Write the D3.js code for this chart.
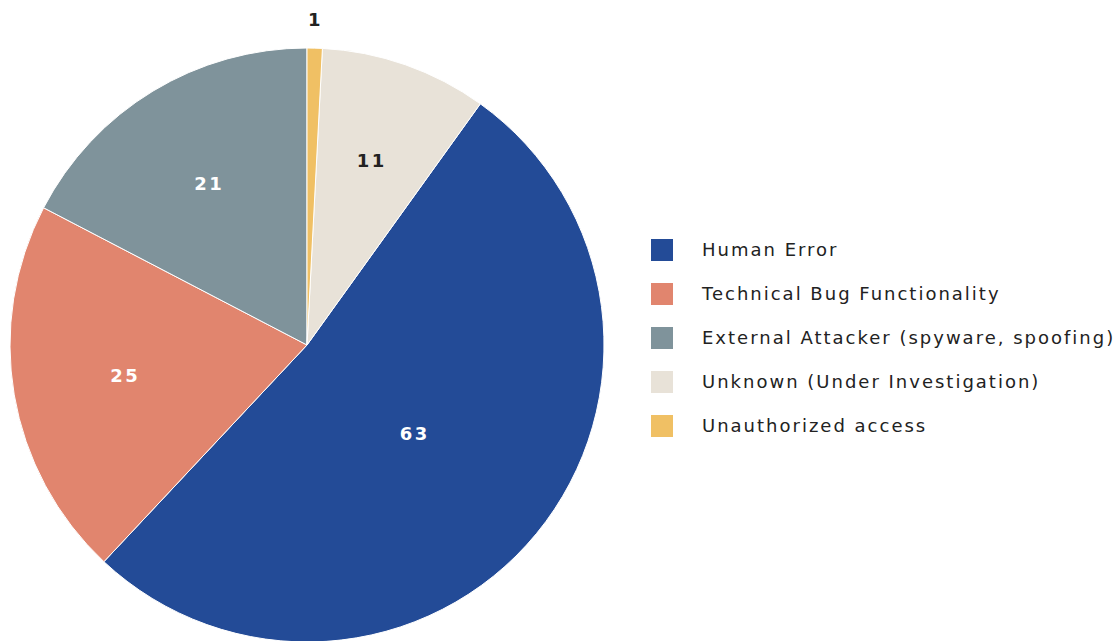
<!DOCTYPE html>
<html>
<head>
<meta charset="utf-8">
<script src="https://cdn.jsdelivr.net/npm/d3@7"></script>
<style>
  body { margin: 0; background: #fff; }
  text { font-family: "DejaVu Sans", Verdana, sans-serif; }
</style>
</head>
<body>
<div id="app"></div>
<script>
const width = 1120;
const height = 641;

// data, legend order
const categories = [
  "Human Error",
  "Technical Bug Functionality",
  "External Attacker (spyware, spoofing)",
  "Unknown (Under Investigation)",
  "Unauthorized access"
];
const values = [63, 25, 21, 11, 1];
const colors = ["#234b97", "#e1856e", "#7f939b", "#e8e2d8", "#f0c064"];
const labelColors = ["#fff", "#fff", "#fff", "#222", "#222"];
// clockwise slice order from 12 o'clock (indexes into the arrays above)
const sliceOrder = [4, 3, 0, 1, 2];

const svg = d3
  .select("#app")
  .append("svg")
  .attr("width", width)
  .attr("height", height);

const radius = 297;
const cx = 307;
const cy = 345;

const total = d3.sum(values);

const pie = d3
  .pie()
  .value((i) => values[i])
  .sort((a, b) => sliceOrder.indexOf(a) - sliceOrder.indexOf(b));

const arcs = pie(d3.range(values.length));

const arc = d3.arc().innerRadius(0).outerRadius(radius);

const g = svg.append("g").attr("transform", `translate(${cx}, ${cy})`);

g.selectAll("path")
  .data(arcs)
  .enter()
  .append("path")
  .attr("d", arc)
  .attr("fill", (d) => colors[d.data])
  .attr("stroke", "#fff")
  .attr("stroke-width", 1);

// labels: sector centroid, small slices go outside
g.selectAll("text.lbl")
  .data(arcs)
  .enter()
  .append("text")
  .attr("class", "lbl")
  .each(function (d) {
    const theta = d.endAngle - d.startAngle;
    const mid = (d.startAngle + d.endAngle) / 2;
    const small = d.value / total < 0.03;
    let r;
    if (small) r = radius + 28;
    else r = radius * Math.max(0.47, (4 * Math.sin(theta / 2)) / (3 * theta));
    d3.select(this)
      .attr("x", Math.sin(mid) * r)
      .attr("y", -Math.cos(mid) * r)
      .attr("fill", small ? "#222" : labelColors[d.data]);
  })
  .attr("text-anchor", "middle")
  .attr("dy", "0.35em")
  .style("font-size", "18px")
  .style("font-weight", "bold")
  .style("letter-spacing", "2.5px")
  .text((d) => d.value);

// legend
const legend = svg.append("g").attr("transform", "translate(651, 250)");
const item = legend
  .selectAll("g")
  .data(categories)
  .enter()
  .append("g")
  .attr("transform", (d, i) => `translate(0, ${i * 44})`);

item
  .append("rect")
  .attr("x", 0)
  .attr("y", -11)
  .attr("width", 22)
  .attr("height", 22)
  .attr("fill", (d, i) => colors[i]);

item
  .append("text")
  .attr("x", 51)
  .attr("dy", "0.35em")
  .attr("fill", "#222")
  .style("font-size", "18px")
  .style("letter-spacing", "2px")
  .text((d) => d);
</script>
</body>
</html>
